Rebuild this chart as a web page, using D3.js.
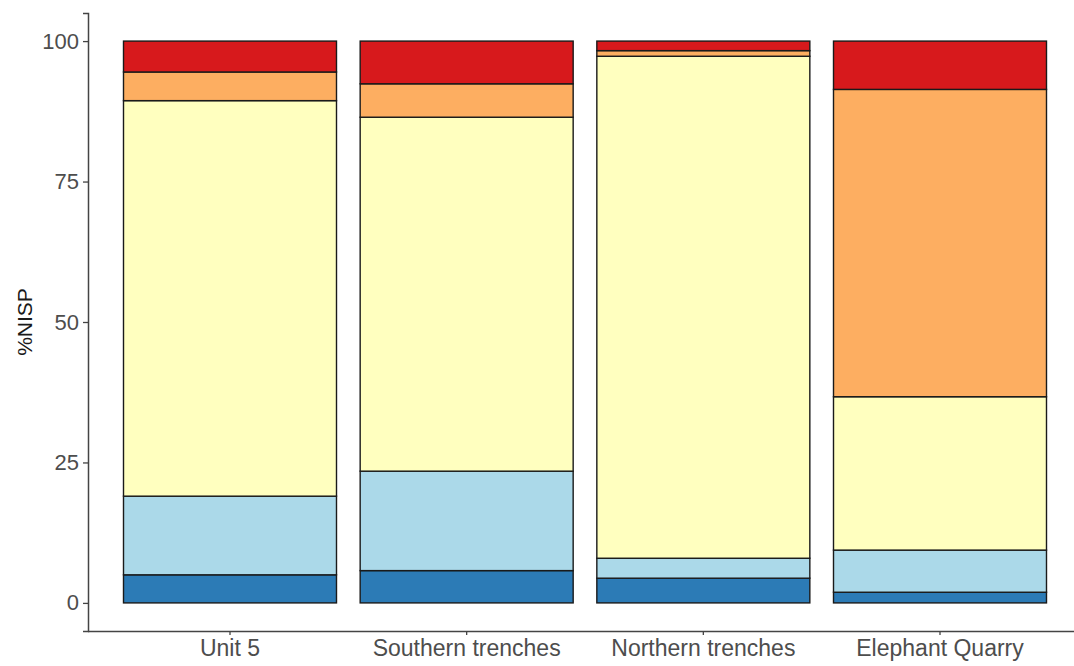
<!DOCTYPE html>
<html>
<head>
<meta charset="utf-8">
<script src="https://cdn.jsdelivr.net/npm/d3@7"></script>
<style>
  html, body { margin: 0; padding: 0; background: #ffffff; }
  svg { display: block; font-family: "Liberation Sans", Arial, sans-serif; }
</style>
</head>
<body>
<svg id="chart" width="1074" height="666"></svg>
<script>
// Sites along the x axis
const sites = ["Unit 5", "Southern trenches", "Northern trenches", "Elephant Quarry"];

// %NISP per taxon group, stacked bottom to top
const groupA = [5.0, 5.75, 4.4, 1.9];     // dark blue (bottom)
const groupB = [14.0, 17.7, 3.55, 7.5];   // light blue
const groupC = [70.4, 63.0, 89.35, 27.3]; // pale yellow
const groupD = [5.1, 5.95, 1.0, 54.7];    // orange
const groupE = [5.5, 7.6, 1.7, 8.6];      // red (top)

const groupKeys = ["A", "B", "C", "D", "E"];
const groupColors = ["#2c7bb6", "#abd9e9", "#ffffbf", "#fdae61", "#d7191c"];

const yTicks = [0, 25, 50, 75, 100];

const rows = sites.map((s, i) => ({
  site: s, A: groupA[i], B: groupB[i], C: groupC[i], D: groupD[i], E: groupE[i]
}));

const svg = d3.select("#chart");

const panel = { left: 88, right: 1082, top: 13, bottom: 631 };

const x = d3.scaleBand()
  .domain(sites)
  .range([panel.left, panel.right])
  .paddingInner(0.1)
  .paddingOuter(0.15);

const y = d3.scaleLinear()
  .domain([-5, 105])
  .range([panel.bottom, panel.top]);

const stack = d3.stack().keys(groupKeys);
const layers = stack(rows);

const color = d3.scaleOrdinal().domain(groupKeys).range(groupColors);

svg.append("g")
  .selectAll("g")
  .data(layers)
  .join("g")
  .attr("fill", d => color(d.key))
  .selectAll("rect")
  .data(d => d)
  .join("rect")
  .attr("x", d => x(d.data.site))
  .attr("width", x.bandwidth())
  .attr("y", d => y(d[1]))
  .attr("height", d => y(d[0]) - y(d[1]))
  .attr("stroke", "#1a1a1a")
  .attr("stroke-width", 1.4);

// Y axis
const yAxis = svg.append("g")
  .attr("transform", `translate(${panel.left},0)`)
  .call(d3.axisLeft(y).tickValues(yTicks).tickSize(5).tickPadding(4));
yAxis.select(".domain").attr("stroke", "#444").attr("stroke-width", 1.5);
yAxis.selectAll(".tick line").attr("stroke", "#444").attr("stroke-width", 1.3);
yAxis.selectAll(".tick text")
  .attr("fill", "#4d4d4d")
  .attr("font-size", "22px")
  .attr("font-family", "Liberation Sans, Arial, sans-serif");

// X axis
const xAxis = svg.append("g")
  .attr("transform", `translate(0,${panel.bottom})`)
  .call(d3.axisBottom(x).tickSize(4).tickPadding(5));
xAxis.select(".domain")
  .attr("d", `M${panel.left},0.5H${panel.right}`)
  .attr("stroke", "#444").attr("stroke-width", 1.5);
xAxis.selectAll(".tick line").attr("stroke", "#444").attr("stroke-width", 1.3);
xAxis.selectAll(".tick text")
  .attr("fill", "#4d4d4d")
  .attr("font-size", "23px")
  .attr("font-family", "Liberation Sans, Arial, sans-serif");

// Y axis title
svg.append("text")
  .attr("transform", `translate(32,${(y(0) + y(100)) / 2}) rotate(-90)`)
  .attr("text-anchor", "middle")
  .attr("font-size", "21px")
  .attr("fill", "#1a1a1a")
  .text("%NISP");
</script>
</body>
</html>
